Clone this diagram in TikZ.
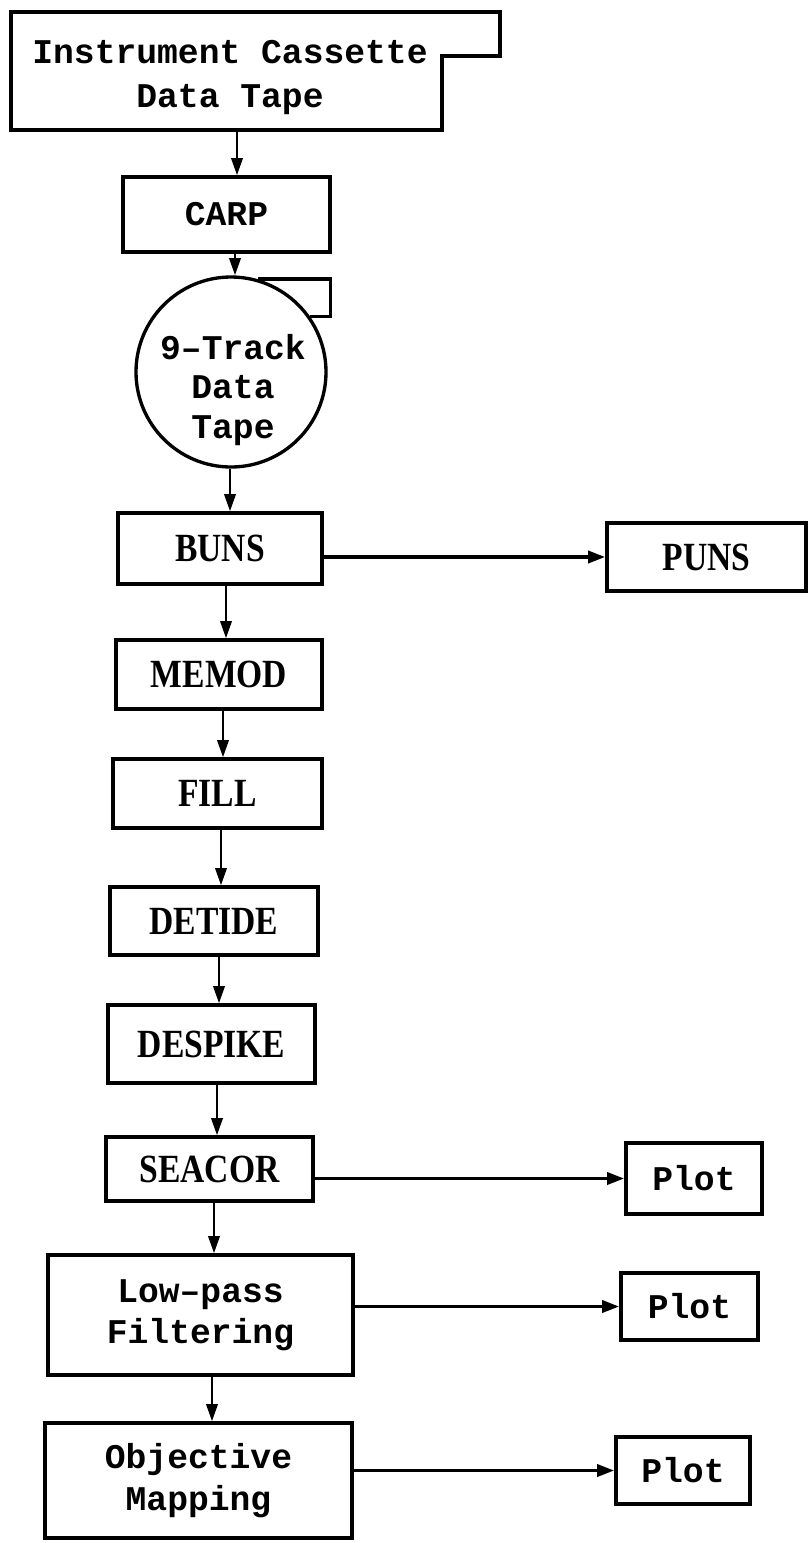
\documentclass[tikz,border=0pt]{standalone}
\usepackage{fontspec}
\newfontfamily\monof{Liberation Mono}
\newfontfamily\seriff[FakeStretch=0.84]{Liberation Serif}
\usetikzlibrary{arrows.meta,calc}
\begin{document}
\begin{tikzpicture}[x=0.75pt,y=-0.75pt,
  boxline/.style={line width=2.5pt, line join=miter},
  proc/.style={draw, line width=2.5pt, inner sep=0pt, font=\seriff\bfseries\fontsize{30}{34}\selectfont},
  mproc/.style={draw, line width=2.5pt, inner sep=0pt, align=center, font=\monof\bfseries\fontsize{26}{31}\selectfont},
  mtext/.style={inner sep=0pt, align=center, font=\monof\bfseries\fontsize{26}{31}\selectfont},
  varr/.style={line width=2.1pt, -{Triangle[length=13pt,width=8.5pt]}},
  harr/.style={line width=2.8pt, -{Triangle[length=13pt,width=9pt]}}]
\useasboundingbox (0,0) rectangle (808,1543);

% cassette tape shape
\draw[boxline] (11,130) -- (11,12) -- (500,12) -- (500,56) -- (442,56) -- (442,130) -- cycle;
\node[mtext, font=\monof\bfseries\fontsize{26}{33}\selectfont] (cass) at (230,77) {Instrument Cassette\\Data Tape};
\coordinate (a0) at (237,130);

\node[mproc, minimum width=155.25pt, minimum height=56.25pt] (carp) at (226.5,214.5) {CARP};

% 9-track tape
\node[circle, draw, line width=2.5pt, minimum size=142.5pt, inner sep=0pt] (tape) at (231,372) {};
\draw[boxline] (tape.74) -| ($(tape.35)+(20,0)$) -- (tape.35);
\node[mtext, font=\monof\bfseries\fontsize{26}{29.6}\selectfont] (tapetxt) at (233,390) {9–Track\\Data\\Tape};

\node[proc, minimum width=153pt, minimum height=53.25pt] (bun) at (220,548.5) {BUNS};
\node[proc, minimum width=149.25pt, minimum height=51pt] (puns) at (706.5,557) {PUNS};
\node[proc, minimum width=154.5pt, minimum height=51.75pt] (memod) at (219,674.5) {MEMOD};
\node[proc, minimum width=156.75pt, minimum height=51.75pt] (fill) at (217.5,793.5) {FILL};
\node[proc, minimum width=156pt, minimum height=51pt] (detide) at (214,921) {DETIDE};
\node[proc, minimum width=155.25pt, minimum height=58.5pt] (despike) at (211.5,1044) {DESPIKE};
\node[proc, minimum width=155.25pt, minimum height=48pt] (seacor) at (209.5,1169) {SEACOR};
\node[mproc, minimum width=102pt, minimum height=53.25pt] (plot1) at (694,1178.5) {Plot};
\node[mproc, minimum width=228.75pt, minimum height=90pt] (lowpass) at (200.5,1315) {Low–pass\\Filtering};
\node[mproc, minimum width=102.75pt, minimum height=50.25pt] (plot2) at (689.5,1306.5) {Plot};
\node[mproc, minimum width=230.25pt, minimum height=86.25pt] (objective) at (198.5,1480.5) {Objective\\Mapping};
\node[mproc, minimum width=100.5pt, minimum height=50.25pt] (plot3) at (683,1470.5) {Plot};

% vertical connectors
\coordinate (a1) at ($(carp.south)+(8.5,0)$);
\coordinate (a2) at ($(tape.south)+(-1,0)$);
\coordinate (a3) at ($(bun.south)+(6,0)$);
\coordinate (a4) at ($(memod.south)+(4,0)$);
\coordinate (a5) at ($(fill.south)+(3.5,0)$);
\coordinate (a6) at ($(detide.south)+(5,0)$);
\coordinate (a7) at ($(despike.south)+(5.5,0)$);
\coordinate (a8) at ($(seacor.south)+(4.5,0)$);
\coordinate (a9) at ($(lowpass.south)+(11.5,0)$);
\draw[varr] (a0) -- (a0 |- carp.north);
\draw[varr] (a1) -- (a1 |- tape.north);
\draw[varr] (a2) -- (a2 |- bun.north);
\draw[varr] (a3) -- (a3 |- memod.north);
\draw[varr] (a4) -- (a4 |- fill.north);
\draw[varr] (a5) -- (a5 |- detide.north);
\draw[varr] (a6) -- (a6 |- despike.north);
\draw[varr] (a7) -- (a7 |- seacor.north);
\draw[varr] (a8) -- (a8 |- lowpass.north);
\draw[varr] (a9) -- (a9 |- objective.north);

% horizontal connectors
\draw[harr] (bun.east |- puns.west) -- (puns.west);
\draw[harr] (seacor.east |- plot1.west) -- (plot1.west);
\draw[harr] (lowpass.east |- plot2.west) -- (plot2.west);
\draw[harr] (objective.east |- plot3.west) -- (plot3.west);
\end{tikzpicture}
\end{document}
